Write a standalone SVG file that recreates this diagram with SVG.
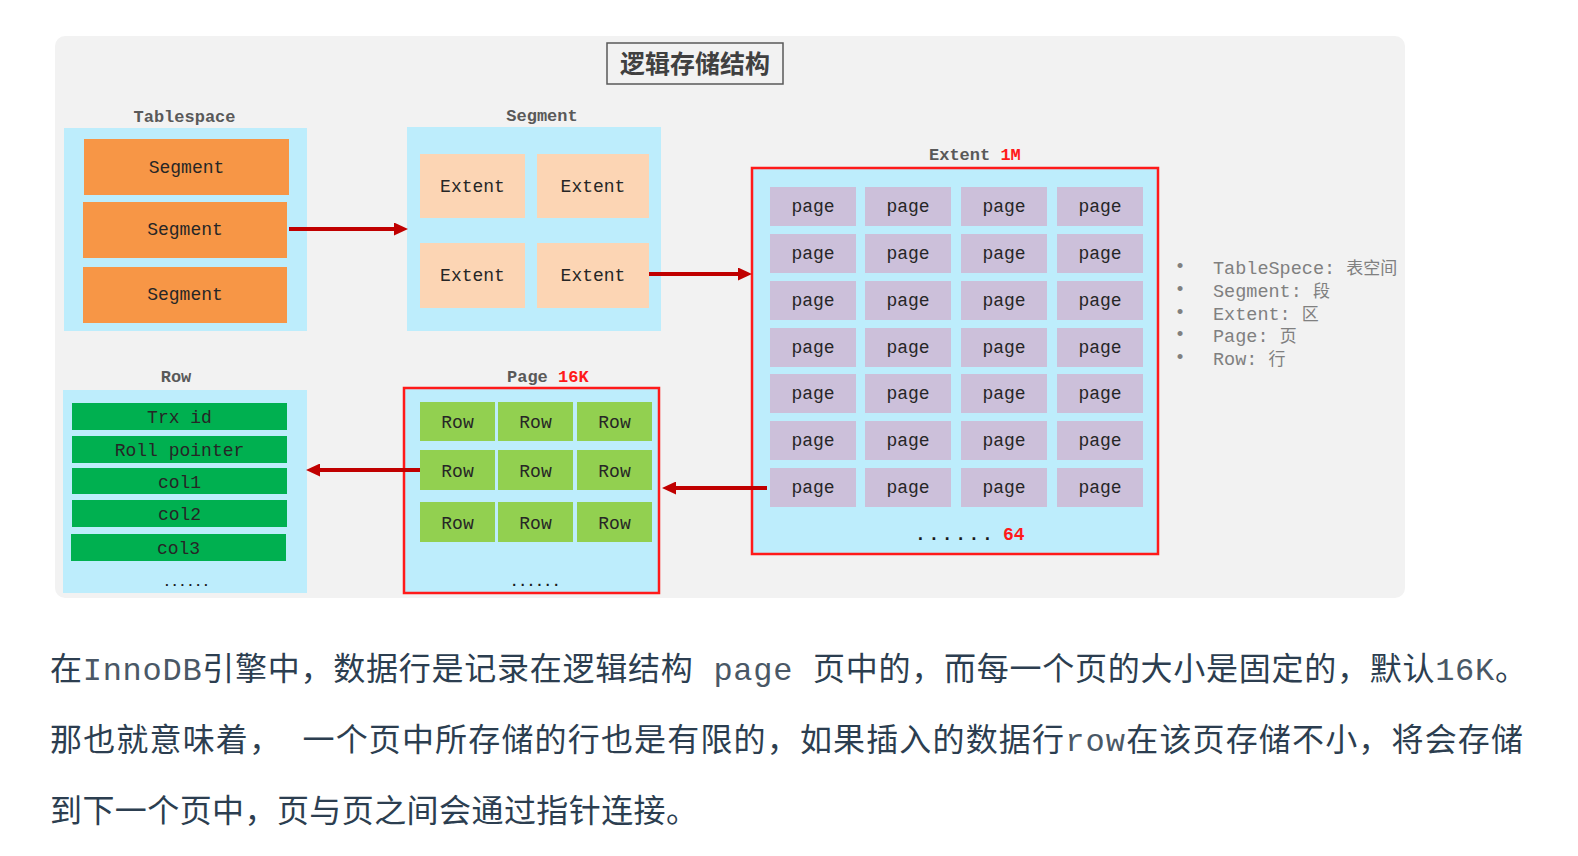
<svg xmlns="http://www.w3.org/2000/svg" width="1578" height="856" viewBox="0 0 1578 856">
<defs>
<style>
.mono{font-family:"Liberation Mono","Courier New",monospace;}
.box{font-family:"Liberation Mono","Courier New",monospace;font-size:18px;fill:#262626;text-anchor:middle;}
.hdr{font-family:"Liberation Mono","Courier New",monospace;font-size:17px;font-weight:bold;fill:#595959;}
.red{fill:#ff1a1a;font-weight:bold;}
.cyan{fill:#bdedfc;}
.seg{fill:#f79646;}
.ext{fill:#fcd5b4;}
.pg{fill:#ccc0da;}
.rw{fill:#92d050;}
.fld{fill:#00b050;}
.conn{stroke:#c00000;stroke-width:4;fill:none;marker-end:url(#ah);}
.leg{font-family:"Liberation Mono","Courier New","Noto Sans CJK SC",monospace;font-size:18.5px;fill:#808080;}
.cjk{font-family:"Noto Sans CJK SC",sans-serif;}
.para{font-family:"Noto Sans CJK SC","Noto Sans",sans-serif;font-size:32px;fill:#2c3e50;}
.pm{font-family:"Liberation Mono","Courier New",monospace;fill:#4a5866;}
</style>
<marker id="ah" markerUnits="userSpaceOnUse" markerWidth="15" markerHeight="13" refX="4" refY="6.5" orient="auto">
<path d="M0,0 L14,6.5 L0,13 z" fill="#c00000"/>
</marker>
</defs>

<rect x="55" y="36" width="1350" height="562" rx="10" fill="#f2f2f2"/>

<g id="title">
<rect x="607" y="43" width="176" height="41" fill="#f2f2f2" stroke="#595959" stroke-width="1.5"/>
<text x="695" y="73" text-anchor="middle" class="cjk" font-size="25" font-weight="bold" fill="#404040">逻辑存储结构</text>
</g>

<g id="tablespace">
<text x="184.5" y="122" class="hdr" text-anchor="middle">Tablespace</text>
<rect x="64" y="128" width="243" height="203" class="cyan"/>
<rect x="84" y="139" width="205" height="56" class="seg"/>
<text x="186.5" y="173" class="box">Segment</text>
<rect x="83" y="202" width="204" height="56" class="seg"/>
<text x="185" y="235" class="box">Segment</text>
<rect x="83" y="267" width="204" height="56" class="seg"/>
<text x="185" y="300" class="box">Segment</text>
</g>

<g id="segment">
<text x="542" y="121" class="hdr" text-anchor="middle">Segment</text>
<rect x="407" y="127" width="254" height="204" class="cyan"/>
<rect x="420" y="154" width="105" height="64" class="ext"/>
<text x="472.5" y="192" class="box">Extent</text>
<rect x="537" y="154" width="112" height="64" class="ext"/>
<text x="593" y="192" class="box">Extent</text>
<rect x="420" y="243" width="105" height="65" class="ext"/>
<text x="472.5" y="281" class="box">Extent</text>
<rect x="537" y="243" width="112" height="65" class="ext"/>
<text x="593" y="281" class="box">Extent</text>
</g>

<g id="extent">
<text x="929" y="160" class="hdr">Extent <tspan class="red">1M</tspan></text>
<rect x="752" y="168" width="406" height="386" class="cyan" stroke="#ff1a1a" stroke-width="2.5"/>
<rect x="770" y="187" width="86" height="39" class="pg"/><rect x="865" y="187" width="86" height="39" class="pg"/><rect x="961" y="187" width="86" height="39" class="pg"/><rect x="1057" y="187" width="86" height="39" class="pg"/>
<rect x="770" y="234" width="86" height="39" class="pg"/><rect x="865" y="234" width="86" height="39" class="pg"/><rect x="961" y="234" width="86" height="39" class="pg"/><rect x="1057" y="234" width="86" height="39" class="pg"/>
<rect x="770" y="281" width="86" height="39" class="pg"/><rect x="865" y="281" width="86" height="39" class="pg"/><rect x="961" y="281" width="86" height="39" class="pg"/><rect x="1057" y="281" width="86" height="39" class="pg"/>
<rect x="770" y="328" width="86" height="39" class="pg"/><rect x="865" y="328" width="86" height="39" class="pg"/><rect x="961" y="328" width="86" height="39" class="pg"/><rect x="1057" y="328" width="86" height="39" class="pg"/>
<rect x="770" y="374" width="86" height="39" class="pg"/><rect x="865" y="374" width="86" height="39" class="pg"/><rect x="961" y="374" width="86" height="39" class="pg"/><rect x="1057" y="374" width="86" height="39" class="pg"/>
<rect x="770" y="421" width="86" height="39" class="pg"/><rect x="865" y="421" width="86" height="39" class="pg"/><rect x="961" y="421" width="86" height="39" class="pg"/><rect x="1057" y="421" width="86" height="39" class="pg"/>
<rect x="770" y="468" width="86" height="39" class="pg"/><rect x="865" y="468" width="86" height="39" class="pg"/><rect x="961" y="468" width="86" height="39" class="pg"/><rect x="1057" y="468" width="86" height="39" class="pg"/>
<text x="813" y="212" class="box">page</text><text x="908" y="212" class="box">page</text><text x="1004" y="212" class="box">page</text><text x="1100" y="212" class="box">page</text>
<text x="813" y="259" class="box">page</text><text x="908" y="259" class="box">page</text><text x="1004" y="259" class="box">page</text><text x="1100" y="259" class="box">page</text>
<text x="813" y="306" class="box">page</text><text x="908" y="306" class="box">page</text><text x="1004" y="306" class="box">page</text><text x="1100" y="306" class="box">page</text>
<text x="813" y="353" class="box">page</text><text x="908" y="353" class="box">page</text><text x="1004" y="353" class="box">page</text><text x="1100" y="353" class="box">page</text>
<text x="813" y="399" class="box">page</text><text x="908" y="399" class="box">page</text><text x="1004" y="399" class="box">page</text><text x="1100" y="399" class="box">page</text>
<text x="813" y="446" class="box">page</text><text x="908" y="446" class="box">page</text><text x="1004" y="446" class="box">page</text><text x="1100" y="446" class="box">page</text>
<text x="813" y="493" class="box">page</text><text x="908" y="493" class="box">page</text><text x="1004" y="493" class="box">page</text><text x="1100" y="493" class="box">page</text>
<text x="915" y="540" class="mono" font-size="18" font-weight="bold" fill="#1a1a1a" letter-spacing="2.6">......<tspan x="1003" class="red" letter-spacing="0">64</tspan></text>
</g>

<g id="page">
<text x="507" y="382" class="hdr">Page <tspan class="red">16K</tspan></text>
<rect x="404" y="388" width="255" height="205" class="cyan" stroke="#ff1a1a" stroke-width="2.5"/>
<rect x="420" y="402" width="75" height="39" class="rw"/><rect x="498" y="402" width="75" height="39" class="rw"/><rect x="577" y="402" width="75" height="39" class="rw"/>
<rect x="420" y="450" width="75" height="40" class="rw"/><rect x="498" y="450" width="75" height="40" class="rw"/><rect x="577" y="450" width="75" height="40" class="rw"/>
<rect x="420" y="502" width="75" height="40" class="rw"/><rect x="498" y="502" width="75" height="40" class="rw"/><rect x="577" y="502" width="75" height="40" class="rw"/>
<text x="457.5" y="428" class="box">Row</text><text x="535.5" y="428" class="box">Row</text><text x="614.5" y="428" class="box">Row</text>
<text x="457.5" y="477" class="box">Row</text><text x="535.5" y="477" class="box">Row</text><text x="614.5" y="477" class="box">Row</text>
<text x="457.5" y="529" class="box">Row</text><text x="535.5" y="529" class="box">Row</text><text x="614.5" y="529" class="box">Row</text>
<text x="510" y="586" class="mono" font-size="14" font-weight="bold" fill="#1a1a1a">......</text>
</g>

<g id="row">
<text x="176" y="382" class="hdr" text-anchor="middle">Row</text>
<rect x="63" y="390" width="244" height="203" class="cyan"/>
<rect x="72" y="403" width="215" height="27" class="fld"/>
<text x="179.5" y="423" class="box" fill="#0f1f0f">Trx id</text>
<rect x="72" y="436" width="215" height="27" class="fld"/>
<text x="179.5" y="456" class="box" fill="#0f1f0f">Roll pointer</text>
<rect x="72" y="468" width="215" height="26" class="fld"/>
<text x="179.5" y="488" class="box" fill="#0f1f0f">col1</text>
<rect x="72" y="500" width="215" height="27" class="fld"/>
<text x="179.5" y="520" class="box" fill="#0f1f0f">col2</text>
<rect x="71" y="534" width="215" height="27" class="fld"/>
<text x="178.5" y="554" class="box" fill="#0f1f0f">col3</text>
<text x="163" y="586" class="mono" font-size="13" font-weight="bold" fill="#1a1a1a">......</text>
</g>

<g id="connectors">
<line x1="289" y1="229" x2="398" y2="229" class="conn"/>
<line x1="649" y1="274" x2="742" y2="274" class="conn"/>
<line x1="420" y1="470" x2="316" y2="470" class="conn"/>
<line x1="767" y1="488" x2="672" y2="488" class="conn"/>
</g>

<g id="legend">
<text x="1180" y="272" class="leg" text-anchor="middle" font-family="Liberation Sans,sans-serif" font-size="14">•</text>
<text x="1180" y="295" class="leg" text-anchor="middle" font-family="Liberation Sans,sans-serif" font-size="14">•</text>
<text x="1180" y="318" class="leg" text-anchor="middle" font-family="Liberation Sans,sans-serif" font-size="14">•</text>
<text x="1180" y="340" class="leg" text-anchor="middle" font-family="Liberation Sans,sans-serif" font-size="14">•</text>
<text x="1180" y="363" class="leg" text-anchor="middle" font-family="Liberation Sans,sans-serif" font-size="14">•</text>
<text x="1213" y="274" class="leg" xml:space="preserve">TableSpece: <tspan class="cjk" font-size="17">表空间</tspan></text>
<text x="1213" y="297" class="leg" xml:space="preserve">Segment: <tspan class="cjk" font-size="17">段</tspan></text>
<text x="1213" y="320" class="leg" xml:space="preserve">Extent: <tspan class="cjk" font-size="17">区</tspan></text>
<text x="1213" y="342" class="leg" xml:space="preserve">Page: <tspan class="cjk" font-size="17">页</tspan></text>
<text x="1213" y="365" class="leg" xml:space="preserve">Row: <tspan class="cjk" font-size="17">行</tspan></text>
</g>

<g id="paragraph">
<text x="50" y="680" class="para" textLength="1477" lengthAdjust="spacing" xml:space="preserve">在<tspan class="pm">InnoDB</tspan>引擎中，数据行是记录在逻辑结构<tspan class="pm"> page </tspan>页中的，而每一个页的大小是固定的，默认<tspan class="pm">16K</tspan>。</text>
<text x="50" y="751" class="para" textLength="1473" lengthAdjust="spacing" xml:space="preserve">那也就意味着，<tspan class="pm"> </tspan>一个页中所存储的行也是有限的，如果插入的数据行<tspan class="pm">row</tspan>在该页存储不小，将会存储</text>
<text x="50" y="822" class="para" textLength="648" lengthAdjust="spacing">到下一个页中，页与页之间会通过指针连接。</text>
</g>
</svg>
